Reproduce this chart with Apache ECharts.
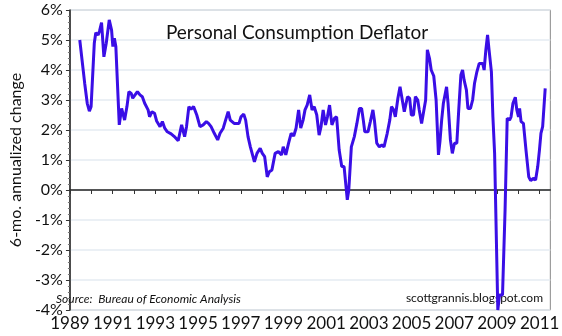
<!DOCTYPE html>
<html>
<head>
<meta charset="utf-8">
<script src="https://cdn.jsdelivr.net/npm/echarts@6/dist/echarts.min.js"></script>
<style>html,body{margin:0;padding:0;background:#fff}#c{width:562px;height:336px}</style>
</head>
<body>
<div id="c"></div>
<script>
// Decimal-year positions and 6-month annualized change (%)
const years = [
1989.46,1989.69,1989.81,1989.91,1989.99,1990.14,1990.21,1990.32,1990.39,1990.48,
1990.59,1990.70,1990.84,1990.95,1991.01,1991.08,1991.15,1991.31,1991.42,1991.49,
1991.56,1991.67,1991.76,1991.87,1991.94,1992.05,1992.16,1992.28,1992.39,1992.50,
1992.59,1992.66,1992.73,1992.84,1992.96,1993.06,1993.22,1993.33,1993.44,1993.56,
1993.74,1993.89,1994.07,1994.23,1994.37,1994.46,1994.57,1994.67,1994.79,1994.94,
1995.09,1995.24,1995.39,1995.49,1995.61,1995.76,1995.92,1996.03,1996.18,1996.29,
1996.41,1996.51,1996.69,1996.92,1997.01,1997.14,1997.23,1997.34,1997.45,1997.53,
1997.64,1997.76,1997.91,1998.01,1998.12,1998.24,1998.34,1998.46,1998.61,1998.76,
1998.91,1998.99,1999.11,1999.24,1999.36,1999.48,1999.59,1999.71,1999.81,1999.92,
2000.01,2000.11,2000.23,2000.34,2000.44,2000.56,2000.67,2000.76,2000.86,2000.97,
2001.06,2001.16,2001.27,2001.39,2001.49,2001.61,2001.73,2001.84,2001.99,2002.06,
2002.18,2002.32,2002.44,2002.56,2002.66,2002.74,2002.81,2002.96,2003.07,2003.19,
2003.26,2003.37,2003.49,2003.61,2003.71,2003.86,2003.98,2004.06,2004.16,2004.24,
2004.36,2004.46,2004.54,2004.66,2004.73,2004.81,2004.91,2004.99,2005.09,2005.18,
2005.29,2005.36,2005.47,2005.56,2005.66,2005.74,2005.84,2005.92,2006.04,2006.11,
2006.15,2006.26,2006.33,2006.41,2006.49,2006.56,2006.64,2006.71,2006.82,2006.91,
2007.01,2007.12,2007.21,2007.31,2007.39,2007.46,2007.57,2007.64,2007.76,2007.86,
2007.95,2008.06,2008.17,2008.33,2008.40,2008.48,2008.56,2008.63,2008.74,2008.81,
2008.89,2009.04,2009.12,2009.19,2009.26,2009.38,2009.48,2009.59,2009.66,2009.75,
2009.86,2009.93,2010.01,2010.06,2010.13,2010.24,2010.36,2010.49,2010.58,2010.70,
2010.81,2010.91,2010.99,2011.06,2011.14,2011.26
];
const values = [
5.00,3.56,2.89,2.63,2.78,4.89,5.24,5.17,5.31,5.58,
4.44,4.89,5.67,5.33,4.78,5.06,4.78,2.17,2.72,2.78,
2.33,2.78,3.28,3.22,3.06,3.17,3.28,3.17,3.11,2.89,
2.94,2.67,2.44,2.61,2.56,2.30,2.11,2.28,2.06,1.94,
1.87,1.78,1.64,2.17,1.78,2.11,2.78,2.69,2.78,2.50,
2.11,2.17,2.28,2.22,2.11,1.89,1.67,1.89,2.06,2.33,
2.61,2.33,2.22,2.22,2.44,2.53,2.33,1.78,1.44,1.39,
0.94,1.22,1.39,1.22,1.11,0.44,0.61,0.67,1.22,1.28,
1.17,1.44,1.17,1.56,1.89,1.80,2.06,2.67,2.06,2.33,
2.67,2.83,3.17,2.67,2.78,2.50,1.83,2.11,2.67,2.17,
2.44,2.83,2.17,2.39,2.44,1.33,0.78,0.78,-0.33,0.00,
1.44,1.78,2.22,2.72,2.72,2.33,1.94,1.94,2.28,2.67,
2.33,1.56,1.44,1.50,1.44,1.89,2.33,2.78,2.67,2.44,
3.06,3.44,3.11,2.61,2.56,3.11,3.06,2.50,2.50,3.11,
3.00,2.67,2.22,2.22,3.00,4.67,4.39,4.00,3.80,3.78,
3.00,1.17,1.61,2.33,2.89,2.94,3.44,2.89,1.67,1.22,
1.56,1.56,2.67,3.83,4.00,3.67,3.33,2.72,2.72,3.00,
3.56,3.94,4.22,4.22,4.00,4.67,5.17,4.67,3.94,2.44,
1.22,-4.00,-3.50,-3.45,-3.50,-0.67,2.39,2.33,2.44,2.89,
3.09,2.67,2.44,2.72,2.28,2.22,1.33,0.44,0.31,0.39,
0.33,0.78,1.33,1.89,2.11,3.39
];
const xLabelYears = [1989,1991,1993,1995,1997,1999,2001,2003,2005,2007,2009,2011];
const xTickYears = [1989,1990,1991,1992,1993,1994,1995,1996,1997,1998,1999,2000,2001,2002,2003,2004,2005,2006,2007,2008,2009,2010,2011];
const yMin = -4, yMax = 6, yStep = 1;
const titleText = 'Personal Consumption Deflator';
const yAxisTitle = '6-mo. annualized change';
const sourceText = 'Source:  Bureau of Economic Analysis';
const creditText = 'scottgrannis.blogspot.com';

const FONT = 'Lato';
const chart = echarts.init(document.getElementById('c'), null, {renderer: 'canvas'});
chart.setOption({
  animation: false,
  backgroundColor: '#ffffff',
  grid: {left: 53, right: 9, top: 10, bottom: 26, show: true, borderColor: '#8a8a8a', borderWidth: 1, backgroundColor: 'transparent'},
  title: {text: titleText, left: 292, top: 18, textAlign: 'center',
    textStyle: {fontFamily: FONT, fontSize: 19, fontWeight: 'normal', color: '#111'}},
  xAxis: {
    type: 'value', min: 1989, max: 2011.5,
    axisLine: {show: true, lineStyle: {color: '#222', width: 1.5}},
    axisTick: {show: true, customValues: xTickYears, length: 4, lineStyle: {color: '#333'}},
    axisLabel: {customValues: xLabelYears, formatter: v => String(v), fontFamily: FONT, fontSize: 17, color: '#111', margin: 5},
    splitLine: {show: false}
  },
  yAxis: {
    type: 'value', min: yMin, max: yMax, interval: yStep,
    name: yAxisTitle, nameLocation: 'middle', nameGap: 40,
    nameTextStyle: {fontFamily: FONT, fontSize: 16, color: '#111'},
    axisLine: {show: true, lineStyle: {color: '#222', width: 1.5}},
    axisTick: {show: true, length: 4, lineStyle: {color: '#333'}},
    minorTick: {show: true, splitNumber: 5, length: 2, lineStyle: {color: '#777'}},
    axisLabel: {formatter: '{value}%', fontFamily: FONT, fontSize: 16, color: '#111', margin: 7},
    splitLine: {show: true, lineStyle: {color: '#e4ebf2', width: 1.5}}
  },
  graphic: [
    {type: 'text', left: 56, top: 293, style: {text: sourceText, fontFamily: FONT, fontStyle: 'italic', fontSize: 12, fill: '#111'}},
    {type: 'text', right: 19, top: 292, style: {text: creditText, fontFamily: FONT, fontSize: 12, fill: '#111'}}
  ],
  series: [{
    type: 'line', showSymbol: false, symbol: 'none',
    data: years.map((y, i) => [y, values[i]]),
    lineStyle: {color: '#3a0ee6', width: 3},
    clip: true
  }]
});
</script>
</body>
</html>
